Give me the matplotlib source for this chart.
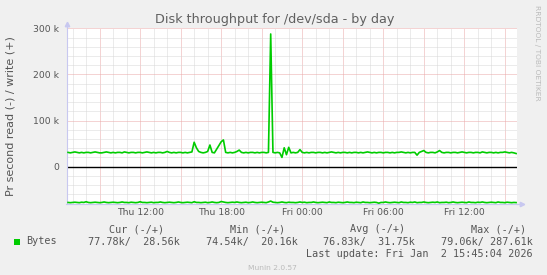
import numpy as np
import matplotlib
matplotlib.use('Agg')
import matplotlib.pyplot as plt
from matplotlib.patches import Rectangle

# Donnees (k octets / s), un point toutes les 10 minutes depuis jeu. 06:40
write_k = [31, 30, 31, 32, 31, 30, 31, 30, 31, 31,
           30, 31, 32, 31, 30, 30, 31, 32, 31, 30,
           31, 30, 31, 31, 30, 32, 31, 30, 31, 31,
           30, 31, 31, 30, 31, 32, 31, 30, 31, 30,
           31, 31, 30, 31, 33, 31, 30, 31, 30, 31,
           31, 30, 31, 30, 31, 32, 53, 41, 33, 31,
           30, 31, 33, 47, 31, 30, 38, 46, 54, 58,
           31, 30, 31, 30, 31, 33, 36, 31, 30, 31,
           30, 31, 31, 30, 31, 30, 31, 31, 30, 31,
           287.61, 31, 30, 31, 30, 20.16, 41, 26, 42, 30,
           31, 30, 31, 37, 31, 30, 31, 30, 31, 31,
           30, 31, 31, 30, 31, 30, 31, 32, 31, 30,
           31, 30, 31, 31, 30, 31, 30, 31, 31, 30,
           31, 30, 31, 32, 31, 30, 31, 30, 31, 31,
           30, 31, 31, 30, 31, 30, 31, 31, 32, 31,
           30, 31, 30, 31, 31, 25, 31, 33, 35, 31,
           30, 31, 31, 30, 32, 35, 31, 30, 31, 31,
           30, 31, 31, 30, 31, 32, 31, 30, 31, 31,
           30, 31, 31, 30, 32, 31, 30, 31, 31, 30,
           31, 30, 31, 31, 32, 31, 30, 31, 30, 28.56]
read_k = [77.5, 78.0, 77.5, 77.0, 77.5, 78.0, 77.0, 77.5, 76.0, 77.5, 78.0, 77.5, 77.0, 77.5, 78.0, 77.5, 76.5, 77.5, 78.0, 77.5,
          77.0, 77.5, 78.0, 77.5, 76.5, 77.5, 77.5, 78.0, 77.0, 77.5, 78.0, 77.5, 76.0, 77.5, 77.5, 78.0, 77.5, 77.0, 78.0, 77.5,
          77.5, 76.5, 77.5, 78.0, 77.5, 77.0, 77.5, 78.0, 77.5, 76.5, 77.5, 78.0, 77.5, 77.0, 77.5, 78.0, 76.0, 77.5, 77.5, 78.0,
          77.5, 77.0, 78.0, 77.5, 76.5, 77.5, 78.0, 77.5, 75.5, 76.5, 77.5, 78.0, 77.5, 77.0, 77.5, 76.5, 77.5, 78.0, 77.5, 77.0,
          78.0, 77.5, 76.5, 77.5, 78.0, 77.5, 77.0, 77.5, 78.0, 76.5, 74.54, 77.0, 77.5, 78.0, 77.5, 76.5, 77.5, 78.0, 77.0, 77.5,
          77.5, 78.0, 77.5, 76.5, 77.5, 77.0, 78.0, 77.5, 77.5, 76.5, 77.5, 78.0, 77.5, 77.0, 77.5, 78.0, 76.5, 77.5, 77.5, 78.0,
          77.0, 77.5, 78.0, 77.5, 76.5, 77.5, 77.5, 78.0, 77.0, 77.5, 78.0, 76.5, 77.5, 77.5, 78.0, 77.5, 77.0, 77.5, 79.06, 77.5,
          77.5, 76.5, 77.5, 78.0, 77.5, 77.0, 77.5, 78.0, 76.5, 77.5, 77.5, 78.0, 77.0, 77.5, 76.5, 78.0, 77.5, 77.5, 76.5, 77.5,
          78.0, 77.5, 77.0, 77.5, 76.5, 78.0, 77.5, 77.5, 77.0, 78.0, 77.5, 76.5, 77.5, 78.0, 77.5, 77.0, 77.5, 78.0, 76.5, 77.5,
          77.5, 78.0, 77.0, 77.5, 76.5, 77.5, 78.0, 77.5, 77.0, 77.5, 78.0, 76.5, 77.5, 77.5, 78.0, 77.0, 77.5, 78.0, 77.5, 77.78]
t_debut = 6 + 40/60.  # heures depuis jeu. 00:00
t_pas = 10/60.
heures = t_debut + t_pas*np.arange(len(write_k))

xticks = [12, 18, 24, 30, 36]
xlabels = ['Thu 12:00', 'Thu 18:00', 'Fri 00:00', 'Fri 06:00', 'Fri 12:00']
yticks = [0, 100000, 200000, 300000]
ylabels = ['0', '100 k', '200 k', '300 k']

# Legende
stats_noms = ['Cur (-/+)', 'Min (-/+)', 'Avg (-/+)', 'Max (-/+)']
stats_read = ['77.78k', '74.54k', '76.83k', '79.06k']
stats_write = ['28.56k', '20.16k', '31.75k', '287.61k']

W, H = 547, 275
def fx(x): return x/W
def fy(y): return 1 - y/H

vert = '#00CC00'
gris = '#555555'
fig = plt.figure(figsize=(W/100, H/100), dpi=100, facecolor='#F0F0F0')
ax = fig.add_axes([fx(66.5), fy(203.6), fx(517)-fx(66.5), fy(28.3)-fy(203.6)])
ax.set_facecolor('white')
ax.set_xlim(6.55, 39.9)
ax.set_ylim(-80000, 300000)

# grille
for h in range(7, 40):
    if h % 3 == 0:
        ax.axvline(h, color='#EBA8A8', lw=0.72, ls=(0, (1, 1)), zorder=1)
    else:
        ax.axvline(h, color='#D8D8D8', lw=0.72, ls=(0, (1, 1)), zorder=1)
for v in range(-60000, 300001, 20000):
    if v % 100000 == 0:
        ax.axhline(v, color='#EBA8A8', lw=0.72, ls=(0, (1, 1)), zorder=1)
    else:
        ax.axhline(v, color='#D8D8D8', lw=0.72, ls=(0, (1, 1)), zorder=1)
ax.axhline(0, color='black', lw=1.0, zorder=2)

ax.plot(heures, np.array(write_k)*1000, color=vert, lw=1.2, zorder=3)
ax.plot(heures, -np.array(read_k)*1000, color=vert, lw=1.2, zorder=3)

ax.set_xticks(xticks)
ax.set_xticklabels(xlabels)
ax.set_yticks(yticks)
ax.set_yticklabels(ylabels)
ax.tick_params(length=0, labelsize=6.7, labelcolor=gris)
ax.tick_params(axis='y', pad=5.3)
ax.tick_params(axis='x', pad=3.5)
for s in ['top', 'right']:
    ax.spines[s].set_visible(False)
ax.spines['left'].set_color('#C8C8F0')
ax.spines['bottom'].set_color('#C8C8F0')
ax.spines['left'].set_linewidth(0.8)
ax.spines['bottom'].set_linewidth(0.8)
# fleches des axes
ax.plot([0, 0], [1, 1.025], color='#C8C8F0', lw=0.8, transform=ax.transAxes, clip_on=False)
ax.plot([0], [1.025], marker='^', ms=3.2, color='#C8C8F0', transform=ax.transAxes, clip_on=False)
ax.plot([1, 1.01], [0, 0], color='#C8C8F0', lw=0.8, transform=ax.transAxes, clip_on=False)
ax.plot([1.01], [0], marker='>', ms=3.2, color='#C8C8F0', transform=ax.transAxes, clip_on=False)

fig.text(fx(275), fy(19), 'Disk throughput for /dev/sda - by day', ha='center', va='center',
         fontsize=9.2, color='#606060')
fig.text(fx(10.5), fy(116), 'Pr second read (-) / write (+)', rotation=90, ha='center', va='center',
         fontsize=8, color=gris)
fig.text(fx(537.5), fy(53), 'RRDTOOL / TOBI OETIKER', rotation=270, ha='center', va='center',
         fontsize=5.4, color='#BBBBBB')

mono = dict(family='DejaVu Sans Mono', fontsize=7.25, color=gris, va='center')
x_noms = [164, 285, 405, 526]
x_vals = [180, 297.5, 415, 533]
for i in range(4):
    fig.text(fx(x_noms[i]), fy(229), stats_noms[i], ha='right', **mono)
    fig.text(fx(x_vals[i]), fy(241.5), '%s/%8s' % (stats_read[i], stats_write[i]), ha='right', **mono)
fig.patches.append(Rectangle((fx(14), fy(244.5)), fx(5.5), fy(239)-fy(244.5), transform=fig.transFigure,
                             facecolor=vert, edgecolor='none'))
fig.text(fx(26), fy(241.5), 'Bytes', ha='left', **mono)
fig.text(fx(533), fy(254), 'Last update: Fri Jan  2 15:45:04 2026', ha='right', **mono)
fig.text(fx(272.5), fy(267.5), 'Munin 2.0.57', ha='center', va='center', fontsize=5.4, color='#BBBBBB')

fig.savefig('out.png', dpi=100, facecolor=fig.get_facecolor())
